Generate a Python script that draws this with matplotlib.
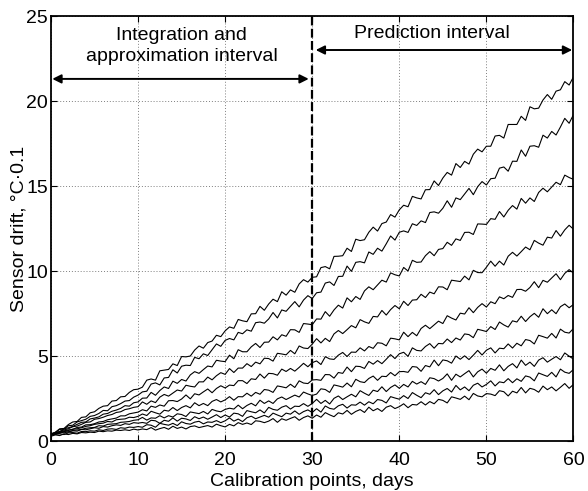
import numpy as np
import matplotlib
matplotlib.use("Agg")
import matplotlib.pyplot as plt

plt.rcParams['font.family'] = ['Liberation Sans', 'DejaVu Sans']

x_label = "Calibration points, days"
y_label = "Sensor drift, \u00b0C\u00b70.1"
x_ticks = [0, 10, 20, 30, 40, 50, 60]
y_ticks = [0, 5, 10, 15, 20, 25]
split_day = 30
left_text = "Integration and\napproximation interval"
right_text = "Prediction interval"

# drift readings every half day, day 0 .. day 60
drift_1 = [0.4,0.52,0.72,0.74,0.97,1.12,1.15,1.39,1.42,1.66,1.72,1.92,2.05,2.08,2.35,2.38,2.6,2.62,2.86,3.02,3.05,
           3.17,3.58,3.65,3.58,4.13,4.17,4.21,4.54,4.44,4.97,4.95,5.0,5.35,5.59,5.46,5.79,5.88,6.22,6.14,6.48,
           6.71,6.63,7.15,7.07,7.02,7.48,7.49,7.92,7.69,8.06,8.34,8.2,8.78,8.58,8.89,8.75,9.24,9.49,9.35,9.63,
           9.66,10.2,10.26,10.13,10.86,10.87,10.9,11.34,11.15,11.87,11.79,11.84,12.28,12.58,12.35,12.79,12.88,13.32,13.17,13.6,
           13.87,13.78,14.39,14.3,14.24,14.78,14.79,15.3,15.03,15.47,15.8,15.64,16.32,16.09,16.45,16.29,16.87,17.17,17.01,17.34,
           17.34,17.94,17.98,17.82,18.62,18.62,18.62,19.1,18.86,19.66,19.54,19.58,20.06,20.38,20.1,20.58,20.66,21.14,20.94,21.42]
drift_2 = [0.42,0.5,0.68,0.7,0.9,0.93,1.12,1.2,1.28,1.45,1.5,1.62,1.8,1.78,2.02,2.08,2.2,2.35,2.38,2.58,2.7,
           2.89,2.93,3.35,3.42,3.3,3.71,3.74,4.19,4.0,4.4,4.46,4.44,4.92,4.84,5.13,5.03,5.37,5.71,5.57,5.92,
           6.03,5.95,6.39,6.31,6.54,6.46,6.96,7.0,6.93,7.18,7.56,7.24,7.71,7.63,7.92,8.2,7.89,8.29,8.55,8.38,
           8.72,8.76,9.29,9.36,9.15,9.68,9.69,10.29,9.98,10.51,10.55,10.48,11.12,10.98,11.34,11.17,11.6,12.06,11.82,12.28,
           12.36,12.27,12.78,12.68,12.95,12.85,13.44,13.48,13.4,13.69,14.13,13.75,14.3,14.2,14.53,14.86,14.49,14.96,15.26,15.06,
           15.43,15.46,16.05,16.12,15.87,16.46,16.45,17.12,16.75,17.34,17.37,17.28,17.99,17.82,18.21,18.0,18.47,18.98,18.69,19.2]
drift_3 = [0.35,0.5,0.55,0.72,0.78,0.86,0.98,1.1,1.12,1.3,1.35,1.42,1.58,1.62,1.75,1.82,1.92,2.08,2.05,2.25,2.3,
           2.52,2.53,2.86,2.69,2.97,3.18,3.09,3.52,3.39,3.62,3.53,3.89,4.08,3.98,4.2,4.41,4.36,4.75,4.7,4.67,
           5.05,4.84,5.37,5.25,5.25,5.54,5.74,5.5,5.81,5.82,6.13,5.95,6.25,6.16,6.55,6.54,6.39,6.91,6.88,6.84,
           7.18,7.17,7.61,7.34,7.71,7.99,7.82,8.42,8.19,8.5,8.33,8.83,9.07,8.9,9.18,9.46,9.35,9.89,9.78,9.71,
           10.21,10.0,10.63,10.51,10.53,10.9,11.14,10.9,11.27,11.32,11.69,11.51,11.89,11.8,12.27,12.28,12.15,12.77,12.76,12.74,
           13.08,13.04,13.5,13.18,13.57,13.85,13.64,14.27,13.99,14.3,14.09,14.62,14.87,14.66,14.94,15.22,15.08,15.64,15.5,15.39]
drift_4 = [0.4,0.48,0.56,0.65,0.72,0.84,0.88,0.98,1.1,1.12,1.28,1.32,1.4,1.5,1.56,1.68,1.72,1.85,1.9,1.98,2.02,
           2.3,2.16,2.36,2.26,2.58,2.74,2.64,2.82,3.0,2.94,3.28,3.22,3.18,3.48,3.48,3.76,3.6,3.84,4.02,3.92,
           4.26,4.03,4.29,4.29,4.55,4.38,4.64,4.54,4.87,4.85,4.7,5.16,5.12,5.07,5.33,5.13,5.59,5.47,5.44,5.7,
           6.02,5.77,6.04,5.85,6.3,6.5,6.32,6.55,6.79,6.66,7.14,7.01,6.92,7.33,7.3,7.68,7.41,7.73,7.97,7.78,
           8.22,7.97,8.29,8.31,8.63,8.44,8.76,8.66,9.07,9.06,8.9,9.46,9.42,9.38,9.7,9.48,10.04,9.91,9.9,10.22,
           10.58,10.28,10.58,10.35,10.87,11.1,10.88,11.14,11.41,11.25,11.8,11.64,11.52,11.99,11.94,12.38,12.05,12.42,12.69,12.46]
drift_5 = [0.45,0.45,0.52,0.6,0.65,0.68,0.8,0.82,0.95,0.96,1.02,1.12,1.15,1.25,1.3,1.35,1.48,1.48,1.6,1.65,1.7,
           1.84,1.77,2.05,1.98,2.12,2.05,2.37,2.38,2.32,2.47,2.71,2.48,2.78,2.71,2.89,3.06,2.84,3.09,3.25,3.12,
           3.29,3.26,3.55,3.55,3.38,3.66,3.62,3.94,3.7,3.98,3.96,3.87,4.23,4.09,4.27,4.11,4.33,4.57,4.37,4.61,
           4.71,4.5,4.96,4.83,4.8,5.05,5.21,4.97,5.23,5.22,5.48,5.3,5.56,5.45,5.78,5.75,5.6,6.05,6.01,5.95,
           6.4,6.14,6.39,6.19,6.62,6.81,6.61,6.83,7.05,6.91,7.37,7.23,7.12,7.52,7.47,7.84,7.55,7.86,8.08,7.88,
           8.19,8.08,8.48,8.37,8.56,8.45,8.91,8.92,8.81,9.03,9.37,9.02,9.45,9.34,9.59,9.84,9.49,9.86,10.08,9.88]
drift_6 = [0.35,0.46,0.5,0.55,0.62,0.7,0.72,0.78,0.86,0.9,0.98,1.02,1.05,1.15,1.12,1.25,1.28,1.3,1.4,1.38,1.45,
           1.59,1.5,1.75,1.66,1.58,1.81,1.76,1.97,1.79,1.97,2.08,1.95,2.25,2.08,2.21,2.08,2.33,2.44,2.3,2.42,
           2.61,2.4,2.61,2.6,2.81,2.64,2.86,2.75,3.03,2.99,2.86,3.24,3.19,3.13,3.34,3.15,3.54,3.41,3.38,3.59,
           3.61,3.57,3.91,3.9,3.7,4.03,3.98,4.35,4.08,4.4,4.38,4.27,4.68,4.52,4.73,4.55,4.81,5.08,4.85,5.13,
           5.22,4.98,5.48,5.33,5.3,5.56,5.73,5.46,5.74,5.72,6.0,5.79,6.06,5.94,6.3,6.26,6.08,6.57,6.51,6.44,
           6.73,6.56,7.0,6.83,6.7,7.07,7.0,7.34,7.03,7.31,7.51,7.28,7.78,7.49,7.72,7.49,7.9,8.06,7.84,8.03]
drift_7 = [0.4,0.42,0.45,0.55,0.52,0.62,0.65,0.68,0.75,0.78,0.8,0.9,0.88,0.98,1.0,1.02,1.1,1.12,1.15,1.22,1.25,
           1.39,1.23,1.36,1.34,1.49,1.36,1.49,1.41,1.6,1.56,1.44,1.71,1.66,1.61,1.74,1.59,1.86,1.77,1.72,1.86,
           1.93,1.88,2.11,1.9,2.09,2.22,2.07,2.4,2.21,2.36,2.21,2.48,2.59,2.44,2.57,2.7,2.59,2.88,2.77,2.68,
           2.76,3.07,3.03,2.86,3.3,3.24,3.17,3.41,3.19,3.63,3.49,3.44,3.68,3.82,3.57,3.81,3.79,4.03,3.84,4.08,
           4.09,4.04,4.38,4.35,4.1,4.44,4.36,4.76,4.43,4.77,4.72,4.58,5.0,4.81,5.01,4.79,5.05,5.33,5.06,5.34,
           5.48,5.18,5.46,5.43,5.71,5.47,5.75,5.6,5.97,5.91,5.71,6.22,6.14,6.05,6.33,6.06,6.58,6.4,6.35,6.62]
drift_8 = [0.42,0.38,0.52,0.48,0.55,0.6,0.58,0.68,0.66,0.72,0.78,0.75,0.85,0.82,0.9,0.95,0.92,1.02,0.98,1.08,1.05,
           1.09,1.04,1.22,1.19,1.04,1.22,1.16,1.36,1.17,1.34,1.3,1.21,1.43,1.31,1.41,1.28,1.41,1.55,1.38,1.53,
           1.41,1.64,1.6,1.45,1.79,1.72,1.66,1.83,1.65,1.98,1.86,1.81,1.99,2.08,1.88,2.05,2.03,2.2,2.04,2.21,
           2.45,2.21,2.39,2.18,2.51,2.65,2.44,2.6,2.75,2.6,2.96,2.81,2.68,2.99,2.91,3.19,2.91,3.15,3.3,3.1,
           3.33,3.18,3.51,3.35,3.49,3.33,3.72,3.67,3.53,3.68,3.95,3.57,3.93,3.77,3.96,4.14,3.77,4.07,4.23,3.99,
           4.27,4.16,4.48,4.13,4.39,4.55,4.3,4.76,4.45,4.64,4.39,4.76,4.9,4.64,4.81,4.97,4.78,5.18,4.99,4.82]
drift_9 = [0.32,0.4,0.42,0.38,0.48,0.5,0.46,0.56,0.55,0.6,0.58,0.66,0.62,0.7,0.72,0.68,0.78,0.75,0.82,0.8,0.85,
           0.81,0.96,0.93,0.81,1.04,0.98,0.93,1.04,0.91,1.13,1.03,0.99,1.11,1.16,1.01,1.12,1.1,1.2,1.08,1.19,
           1.36,1.17,1.29,1.14,1.37,1.46,1.31,1.41,1.51,1.4,1.64,1.53,1.43,1.64,1.58,1.77,1.57,1.73,1.83,1.68,
           1.9,1.7,2.06,1.92,1.87,2.07,2.16,1.94,2.13,2.11,2.29,2.11,2.31,2.19,2.44,2.39,2.24,2.61,2.53,2.46,
           2.67,2.5,2.85,2.69,2.55,2.84,2.75,3.02,2.73,2.95,3.09,2.88,3.27,3.01,3.18,2.96,3.28,3.4,3.18,3.33,
           3.54,3.24,3.48,3.43,3.67,3.43,3.66,3.51,3.83,3.76,3.54,4.0,3.9,3.8,4.04,3.77,4.23,4.05,3.98,4.21]
drift_10 = [0.28,0.36,0.32,0.42,0.38,0.45,0.42,0.5,0.48,0.52,0.5,0.58,0.55,0.6,0.58,0.64,0.62,0.66,0.62,0.7,0.65,
            0.71,0.67,0.79,0.64,0.73,0.8,0.69,0.87,0.74,0.82,0.71,0.85,0.89,0.79,0.85,0.91,0.82,0.99,0.9,0.83,
            0.98,0.89,1.08,0.98,1.06,0.97,1.19,1.16,1.08,1.17,1.32,1.1,1.31,1.22,1.33,1.43,1.22,1.38,1.48,1.34,
            1.53,1.4,1.67,1.54,1.43,1.66,1.59,1.8,1.57,1.74,1.85,1.68,1.99,1.78,1.91,1.74,1.99,2.08,1.91,2.02,
            2.19,1.96,2.15,2.12,2.31,2.12,2.32,2.19,2.45,2.39,2.24,2.6,2.53,2.45,2.64,2.43,2.8,2.65,2.6,2.79,
            2.76,2.67,2.96,2.9,2.65,2.93,2.83,3.15,2.83,3.1,3.03,2.87,3.23,3.02,3.18,2.95,3.16,3.38,3.1,3.33]

series = [drift_1, drift_2, drift_3, drift_4, drift_5, drift_6, drift_7, drift_8, drift_9, drift_10]

fig = plt.figure(figsize=(5.88, 4.91), dpi=100)
ax = fig.add_axes([0.0867, 0.1018, 0.8886, 0.8656])

for s in series:
    days = np.linspace(x_ticks[0], x_ticks[-1], len(s))
    ax.plot(days, s, color='black', lw=0.8)

ax.set_xlim(x_ticks[0], x_ticks[-1])
ax.set_ylim(y_ticks[0], y_ticks[-1])
ax.set_xticks(x_ticks)
ax.set_yticks(y_ticks)
ax.grid(True, color='#7f7f7f', linestyle=(0, (1, 2)), lw=0.7)
ax.tick_params(direction='in', top=True, right=True, length=4, width=0.8,
               labelsize=14, colors='black')
ax.tick_params(axis='x', pad=8)
ax.tick_params(axis='y', pad=2)
for sp in ax.spines.values():
    sp.set_linewidth(1.3)

ax.axvline(split_day, color='black', lw=1.6, linestyle=(0, (4, 1.5)))

ax.annotate('', xy=(0.15, 21.3), xytext=(29.6, 21.3),
            arrowprops=dict(arrowstyle='<|-|>', color='black', lw=1.4,
                            mutation_scale=13, shrinkA=0, shrinkB=0))
ax.annotate('', xy=(30.4, 23.0), xytext=(59.85, 23.0),
            arrowprops=dict(arrowstyle='<|-|>', color='black', lw=1.4,
                            mutation_scale=13, shrinkA=0, shrinkB=0))
ax.text(15, 23.25, left_text, ha='center', va='center', fontsize=14, linespacing=1.3)
ax.text(43.7, 24.0, right_text, ha='center', va='center', fontsize=14)

ax.set_xlabel(x_label, fontsize=14, labelpad=3)
ax.set_ylabel(y_label, fontsize=14, labelpad=-1)

fig.savefig('out.png', dpi=100)
